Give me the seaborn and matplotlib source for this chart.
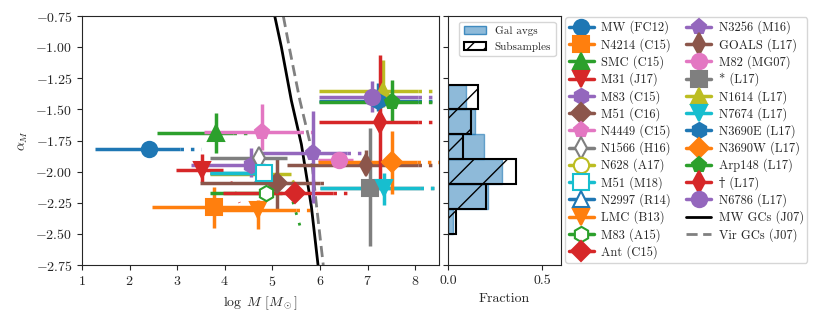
import numpy as np
import pandas as pd
import seaborn as sns
import matplotlib
matplotlib.use("Agg")
from matplotlib import pyplot as plt
from matplotlib.colors import to_rgba
from matplotlib.patches import Patch
from matplotlib.lines import Line2D

sns.set_style("ticks")
plt.rcParams['font.family'] = ['cmr10', 'DejaVu Serif']
plt.rcParams['mathtext.fontset'] = 'cm'
plt.rcParams['axes.formatter.use_mathtext'] = True
plt.rcParams['hatch.linewidth'] = 1.0
plt.rcParams['font.size'] = 10

# galaxies: centre, horizontal extent, vertical extent, end of dotted extension
names = ['MW (FC12)', 'N4214 (C15)', 'SMC (C15)', 'M31 (J17)', 'M83 (C15)',
         'M51 (C16)', 'N4449 (C15)', 'N1566 (H16)', 'N628 (A17)', 'M51 (M18)',
         'N2997 (R14)', 'LMC (B13)', 'M83 (A15)', 'Ant (C15)',
         'N3256 (M16)', 'GOALS (L17)', 'M82 (MG07)', '* (L17)', 'N1614 (L17)',
         'N7674 (L17)', 'N3690E (L17)', 'N3690W (L17)', 'Arp148 (L17)',
         '\u2020 (L17)', 'N6786 (L17)']
logM = [2.41, 3.78, 3.82, 3.52, 4.56, 5.09, 4.79, 4.72, 4.80, 4.82, 4.82, 4.70,
        4.86, 5.47, 5.86, 6.97, 6.41, 7.05, 7.32, 7.34, 7.22, 7.51, 7.51, 7.27, 7.09]
alpha = [-1.82, -2.28, -1.69, -1.99, -1.95, -2.095, -1.68, -1.89, -2.02, -2.01,
         -2.01, -2.31, -2.17, -2.175, -1.854, -1.95, -1.91, -2.13, -1.35, -2.13,
         -1.43, -1.92, -1.44, -1.60, -1.40]
m_lo = [1.27, 2.47, 2.58, 2.98, 3.29, 3.47, 3.57, 3.68, 3.68, 3.68, 3.68, 3.92,
        3.68, 3.96, 4.66, 5.30, 5.95, 6.00, 5.98, 6.00, 5.98, 5.96, 5.98, 5.98, 5.98]
m_hi = [3.05, 4.75, 4.17, 3.96, 4.85, 6.00, 5.58, 5.30, 5.40, 5.00, 4.95, 5.50,
        5.20, 6.27, 6.56, 8.07, 6.70, 8.10, 8.07, 8.10, 8.07, 8.04, 8.07, 8.07, 8.07]
a_lo = [-1.85, -2.45, -1.85, -2.08, -2.04, -2.30, -1.83, -1.93, -2.05, -2.04,
        -2.04, -2.46, -2.21, -2.20, -2.25, -2.01, -1.94, -2.60, -1.48, -2.27,
        -1.51, -2.18, -1.61, -2.10, -1.52]
a_hi = [-1.79, -2.12, -1.53, -1.86, -1.81, -1.89, -1.46, -1.82, -1.99, -1.98,
        -1.98, -2.23, -2.13, -2.15, -1.51, -1.83, -1.88, -1.65, -1.105, -2.01,
        -1.29, -1.67, -1.26, -1.065, -1.27]
m_dot = [3.50, None, 4.52, None, None, 6.15, 6.00, None, None, None, None, 5.93,
         None, 6.70, 6.95, 8.6, None, 8.6, 8.6, 8.6, 8.6, 8.6, 8.6, 8.6, 8.6]
open_names = ['N1566 (H16)', 'N628 (A17)', 'M51 (M18)', 'N2997 (R14)', 'M83 (A15)']
hidden_names = ['N628 (A17)', 'N2997 (R14)']

# short dotted tracks
track_red_m = [4.13, 4.19, 4.25, 4.31]
track_red_a = [-2.08, -2.14, -2.20, -2.25]
track_olive_m = [5.43, 5.48, 5.53, 5.57]
track_olive_a = [-2.07, -2.12, -2.17, -2.22]
track_green_m = [5.43, 5.48, 5.54, 5.59]
track_green_a = [-2.24, -2.31, -2.38, -2.45]

# J07 relations
mw_gc_m = [5.05, 5.19, 5.40, 5.61, 5.82, 5.96]
mw_gc_a = [-0.75, -1.00, -1.43, -1.78, -2.28, -2.75]
vir_gc_m = [5.23, 5.37, 5.58, 5.78, 5.93, 6.07]
vir_gc_a = [-0.75, -1.03, -1.43, -1.75, -2.28, -2.75]

# histogram
bin_edges = [-2.5, -2.3, -2.1, -1.9, -1.7, -1.5, -1.3]
gal_frac = [0.024, 0.21, 0.285, 0.19, 0.144, 0.096]
sub_frac = [0.04, 0.20, 0.36, 0.08, 0.12, 0.16]

colors = sns.color_palette('tab10')
markers = ['o', 's', '^', 'v', 'h', 'D', 'p', 'd']

fig = plt.figure(figsize=(8.3, 3.12), dpi=100)
ax = fig.add_axes([0.0988, 0.1506, 0.430, 0.798])
ax2 = fig.add_axes([0.540, 0.1506, 0.136, 0.798])

handles = []
for i, name in enumerate(names):
    c = colors[i % 10]
    mk = markers[i % 8]
    x, y = logM[i], alpha[i]
    hollow = name in open_names
    ms = 10 if mk == 'D' else 11
    z = 1.8 if name in hidden_names else 2 + i * 0.01
    ax.errorbar(x, y,
                xerr=[[x - m_lo[i]], [m_hi[i] - x]],
                yerr=[[y - a_lo[i]], [a_hi[i] - y]],
                fmt=mk, color=c, ms=ms, mec=c,
                mfc='white' if hollow else c, mew=1.5,
                elinewidth=2.5, capsize=0, zorder=z)
    if m_dot[i] is not None:
        ax.plot([m_hi[i], m_dot[i]], [y, y], color=c, lw=2.5,
                ls=(0, (1, 2)), zorder=1)
    handles.append(Line2D([], [], color=c, marker=mk, ms=ms, lw=2.5, mec=c,
                          mfc='white' if hollow else c, mew=1.5, label=name))

for tm, ta, c in [(track_red_m, track_red_a, colors[3]),
                  (track_olive_m, track_olive_a, colors[8]),
                  (track_green_m, track_green_a, colors[2])]:
    ax.plot(tm, ta, color=c, lw=2, ls=(0, (1, 3)))

l1, = ax.plot(mw_gc_m, mw_gc_a, color='k', lw=2, label='MW GCs (J07)')
l2, = ax.plot(vir_gc_m, vir_gc_a, color='grey', lw=2, ls='--',
              dashes=(4, 2), label='Vir GCs (J07)')
handles += [l1, l2]

ax.set_xlim(1, 8.5)
ax.set_ylim(-2.75, -0.75)
ax.set_yticks(np.arange(-2.75, -0.74, 0.25))
ax.set_xlabel(r'$\log\ M\ [M_\odot]$')
ax.set_ylabel(r'$\alpha_M$')

# histogram panel
centers = [(bin_edges[k] + bin_edges[k + 1]) / 2 for k in range(len(gal_frac))]
c0 = colors[0]
sns.histplot(y=centers, weights=gal_frac, bins=bin_edges, ax=ax2,
             facecolor=to_rgba(c0, 0.5), edgecolor=to_rgba(c0, 0.6), linewidth=1)
sns.histplot(y=centers, weights=sub_frac, bins=bin_edges, ax=ax2,
             facecolor='none', edgecolor='k', hatch='/', linewidth=1.5)
ax2.set_ylim(-2.75, -0.75)
ax2.set_yticks(np.arange(-2.75, -0.74, 0.25))
ax2.set_yticklabels([])
ax2.set_ylabel('')
ax2.set_xlim(0, 0.6)
ax2.set_xticks([0, 0.5])
ax2.set_xticklabels(['0.0', '0.5'])
ax2.set_xlabel('Fraction')
ax2.legend(handles=[Patch(facecolor=to_rgba(c0, 0.5), edgecolor=to_rgba(c0, 0.8)),
                    Patch(facecolor='none', edgecolor='k', hatch='//', lw=1.5)],
           labels=['Gal avgs', 'Subsamples'], loc='upper right', fontsize=8)

fig.legend(handles, [h.get_label() for h in handles], ncol=2,
           loc='upper left', bbox_to_anchor=(565 / 830, 1 - 17 / 312),
           borderaxespad=0, fontsize=9, labelspacing=0.28, borderpad=0.3,
           columnspacing=1.2, handlelength=2, handletextpad=0.6)

fig.savefig('out.png', dpi=100)
